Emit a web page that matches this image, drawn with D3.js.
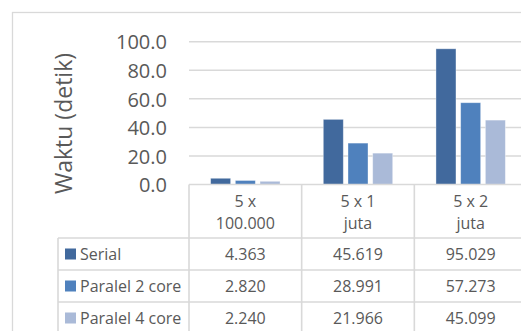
<!DOCTYPE html>
<html>
<head>
<meta charset="utf-8">
<script src="https://cdn.jsdelivr.net/npm/d3@7/dist/d3.min.js"></script>
<style>
  html, body { margin: 0; padding: 0; background: #fff; overflow: hidden; }
  svg { display: block; font-family: "Open Sans", sans-serif; }
</style>
</head>
<body>
<script>
// Execution time per input size, by processing mode
const categories = [["5 x", "100.000"], ["5 x 1", "juta"], ["5 x 2", "juta"]];
const seriesNames = ["Serial", "Paralel 2 core", "Paralel 4 core"];
const serialValues = [4.363, 45.619, 95.029];
const paralel2Values = [2.820, 28.991, 57.273];
const paralel4Values = [2.240, 21.966, 45.099];
const yTicks = [0, 20, 40, 60, 80, 100];
const yTitle = "Waktu (detik)";

const seriesValues = [serialValues, paralel2Values, paralel4Values];
const colors = ["#41699d", "#4f81bd", "#aabad8"];

const W = 521, H = 331;
const textColor = "#595959";
const lineColor = "#d9d9d9";

const svg = d3.select("body").append("svg").attr("width", W).attr("height", H);

// chart frame
svg.append("rect")
  .attr("x", 12.5).attr("y", 12.5)
  .attr("width", 540).attr("height", 340)
  .attr("fill", "#fff").attr("stroke", lineColor).attr("stroke-width", 1.3);

const plotLeft = 189, plotRight = 527;
const x0 = d3.scaleBand().domain(d3.range(categories.length)).range([plotLeft, plotRight]);
const bw = x0.bandwidth();
const groupW = 69.4;
const x1 = d3.scaleBand().domain(d3.range(seriesNames.length))
  .range([(bw - groupW) / 2, (bw + groupW) / 2]).paddingInner(0.19).paddingOuter(0);
const y = d3.scaleLinear().domain([0, 100]).range([184.5, 41.7]);

// gridlines
svg.append("g").selectAll("line").data(yTicks.filter(d => d > 0)).join("line")
  .attr("x1", plotLeft).attr("x2", plotRight)
  .attr("y1", d => y(d)).attr("y2", d => y(d))
  .attr("stroke", lineColor).attr("stroke-width", 1.5);

// y axis labels
const yAxis = d3.axisLeft(y).tickValues(yTicks).tickFormat(d3.format(".1f")).tickSize(0).tickPadding(0);
const ya = svg.append("g").attr("transform", "translate(167,0)").call(yAxis);
ya.select(".domain").remove();
ya.selectAll("text")
  .attr("font-family", "'Open Sans', sans-serif")
  .attr("font-size", 20).attr("fill", textColor).attr("dy", "0.36em");

// y axis title
svg.append("text")
  .attr("transform", "translate(72,123.5) rotate(-90)")
  .attr("text-anchor", "middle")
  .attr("font-size", 23).attr("fill", textColor)
  .text(yTitle);

// bars
const groups = svg.append("g").selectAll("g").data(categories).join("g")
  .attr("transform", (d, i) => `translate(${x0(i)},0)`);
groups.selectAll("rect")
  .data((d, i) => seriesValues.map((vals, s) => ({ s, v: vals[i] })))
  .join("rect")
  .attr("x", d => x1(d.s))
  .attr("width", x1.bandwidth())
  .attr("y", d => y(d.v))
  .attr("height", d => y(0) - y(d.v))
  .attr("fill", d => colors[d.s])
  .attr("stroke", "rgba(255,255,255,0.45)").attr("stroke-width", 0.8);

// data table
const headTop = 184.5, headBottom = 238, rowH = 32;
const tableLeft = 58;
const table = svg.append("g");
const rowLines = [headBottom, headBottom + rowH, headBottom + 2 * rowH, headBottom + 3 * rowH];
table.append("line")
  .attr("x1", plotLeft).attr("x2", plotRight).attr("y1", headTop).attr("y2", headTop)
  .attr("stroke", lineColor).attr("stroke-width", 1.6);
table.selectAll("line.h").data(rowLines).join("line").attr("class", "h")
  .attr("x1", tableLeft).attr("x2", plotRight)
  .attr("y1", d => d).attr("y2", d => d)
  .attr("stroke", lineColor).attr("stroke-width", 1.6);
const colEdges = d3.range(categories.length + 1).map(i => plotLeft + i * bw);
table.selectAll("line.v").data(colEdges).join("line").attr("class", "v")
  .attr("x1", d => d).attr("x2", d => d)
  .attr("y1", headTop).attr("y2", H + 10)
  .attr("stroke", lineColor).attr("stroke-width", 1.6);
table.append("line")
  .attr("x1", tableLeft).attr("x2", tableLeft).attr("y1", headBottom).attr("y2", H + 10)
  .attr("stroke", lineColor).attr("stroke-width", 1.6);

// category headers
categories.forEach((lines, i) => {
  lines.forEach((t, k) => {
    table.append("text")
      .attr("x", x0(i) + bw / 2).attr("y", 201.5 + k * 21.5)
      .attr("dy", "0.36em").attr("text-anchor", "middle")
      .attr("font-size", 16).attr("fill", textColor).text(t);
  });
});

// rows: legend key + values
const fmt = d3.format(".3f");
seriesNames.forEach((name, s) => {
  const cy = headBottom + rowH * s + rowH / 2;
  table.append("rect")
    .attr("x", 65).attr("y", cy - 5.5).attr("width", 11).attr("height", 11)
    .attr("fill", colors[s]);
  table.append("text")
    .attr("x", 80).attr("y", cy).attr("dy", "0.36em")
    .attr("font-size", 16).attr("fill", textColor).text(name);
  seriesValues[s].forEach((v, i) => {
    table.append("text")
      .attr("x", x0(i) + bw / 2).attr("y", cy).attr("dy", "0.36em")
      .attr("text-anchor", "middle")
      .attr("font-size", 16).attr("fill", textColor).text(fmt(v));
  });
});
</script>
</body>
</html>
